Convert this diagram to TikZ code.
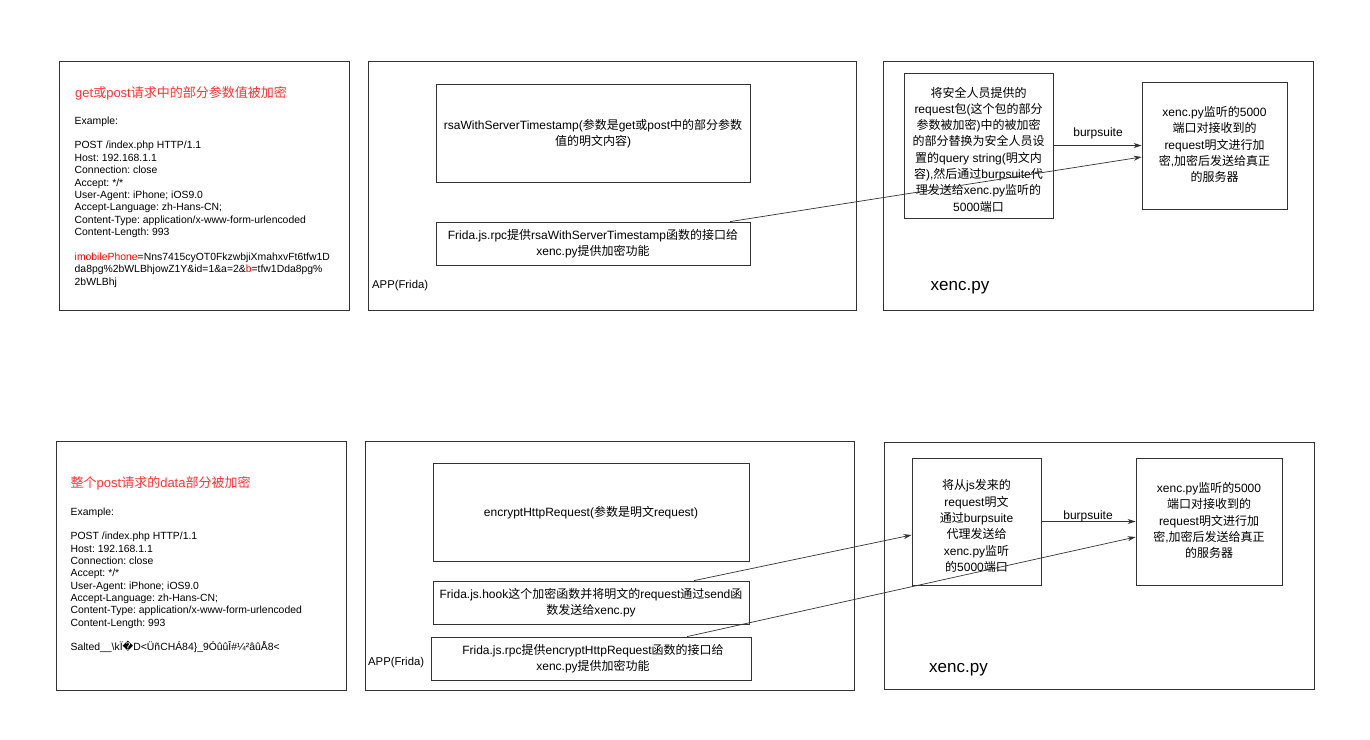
\documentclass[tikz,border=0pt]{standalone}
\usepackage{fontspec}
\setmainfont{Liberation Sans}
\newfontfamily\cjkf{Noto Sans CJK SC}
\newfontfamily\dvf{DejaVu Sans}
\usetikzlibrary{arrows.meta}
\newcommand\zh[1]{{\cjkf #1}}
\definecolor{titred}{HTML}{FF3333}
\definecolor{edge}{HTML}{333333}
\frenchspacing
\tikzset{
  boxsty/.style={draw=edge, line width=0.8pt, inner sep=0pt, fill=none},
  txt/.style={align=center, inner sep=0pt, font=\fontsize{12}{16.3}\selectfont},
  body/.style={anchor=base west, inner sep=0pt, font=\fontsize{10.4}{12.4}\selectfont},
  tit/.style={anchor=base west, inner sep=0pt, text=titred, font=\fontsize{13}{15}\selectfont},
  lab/.style={anchor=west, inner sep=0pt},
  conn/.style={draw=edge, line width=0.7pt, -{Stealth[length=8pt,width=5pt]}},
}
\begin{document}
\begin{tikzpicture}[x=1pt,y=-1pt]
\useasboundingbox (0,0) rectangle (1370,739);
\fill[white] (0,0) rectangle (1370,739);

% ---------- top row ----------
\node[boxsty, minimum width=290pt, minimum height=249pt] (TL) at (204,185.5) {};
\node[tit] (tlt) at (75,97.5) {get\zh{或}post\zh{请求中的部分参数值被加密}};
\foreach \t [count=\i] in {
  Example:,{},
  POST /index.php HTTP/1.1,
  Host: 192.168.1.1,
  Connection: close,
  Accept: */*,
  User-Agent: iPhone; iOS9.0,
  Accept-Language: zh-Hans-CN;,
  Content-Type: application/x-www-form-urlencoded,
  Content-Length: 993,{},
  {\textcolor{red}{imobilePhone}=Nns7415cyOT0FkzwbjiXmahxvFt6tfw1D},
  {da8pg\%2bWLBhjowZ1Y\&id=1\&a=2\&\textcolor{red}{b}=tfw1Dda8pg\%},
  2bWLBhj}
  \node[body, name=tlb\i] at (74.5,{124+12.4*(\i-1)}) {\t};

\node[boxsty, minimum width=488pt, minimum height=249pt] (TM) at (612,185.5) {};
\node[boxsty, minimum width=314pt, minimum height=98pt] (TM1) at (593,133) {};
\node[txt] (TM1t) at (593,134) {rsaWithServerTimestamp(\zh{参数是}get\zh{或}post\zh{中的部分参数}\\\zh{值的明文内容})};
\node[boxsty, minimum width=314pt, minimum height=43pt] (TM2) at (593,243.5) {};
\node[txt] (TM2t) at (593,243.5) {Frida.js.rpc\zh{提供}rsaWithServerTimestamp\zh{函数的接口给}\\xenc.py\zh{提供加密功能}};
\node[lab, font=\fontsize{11.3}{13}\selectfont] (app1) at (372,285.5) {APP(Frida)};

\node[boxsty, minimum width=430pt, minimum height=249pt] (TR) at (1098,185.5) {};
\node[boxsty, minimum width=149pt, minimum height=145pt] (A) at (978.5,145.5) {};
\node[txt] (At) at (978.5,149.5) {\zh{将安全人员提供的}\\request\zh{包}(\zh{这个包的部分}\\\zh{参数被加密})\zh{中的被加密}\\\zh{的部分替换为安全人员设}\\\zh{置的}query string(\zh{明文内}\\\zh{容}),\zh{然后通过}burpsuite\zh{代}\\\zh{理发送给}xenc.py\zh{监听的}\\5000\zh{端口}};
\node[boxsty, minimum width=145pt, minimum height=127pt] (B) at (1214.5,145.5) {};
\node[txt] (Bt) at (1214.5,144.5) {xenc.py\zh{监听的}5000\\\zh{端口对接收到的}\\request\zh{明文进行加}\\\zh{密},\zh{加密后发送给真正}\\\zh{的服务器}};
\node[lab, font=\fontsize{17}{20}\selectfont] (xenc1) at (930.5,288) {xenc.py};

\draw[conn] (A.east) -- (B.west);
\node[inner sep=0pt, font=\fontsize{12}{14}\selectfont] (bs1) at (1098,133.5) {burpsuite};
\draw[conn] ([xshift=137pt]TM2.north) -- ([yshift=-11.5pt]B.west);

% ---------- bottom row ----------
\node[boxsty, minimum width=290pt, minimum height=249pt] (BL) at (201,565.5) {};
\node[tit] (blt) at (70.5,487.5) {\zh{整个}post\zh{请求的}data\zh{部分被加密}};
\foreach \t [count=\i] in {
  Example:,{},
  POST /index.php HTTP/1.1,
  Host: 192.168.1.1,
  Connection: close,
  Accept: */*,
  User-Agent: iPhone; iOS9.0,
  Accept-Language: zh-Hans-CN;,
  Content-Type: application/x-www-form-urlencoded,
  Content-Length: 993,{},
  {Salted\_\_\textbackslash kÏ{\dvf\char"FFFD}D<ÜñCHÁ84\}\_9ÓûûÎ\#¼²âûÅ8<}}
  \node[body, name=blb\i] at (70.5,{515+12.35*(\i-1)}) {\t};

\node[boxsty, minimum width=489pt, minimum height=249pt] (BM) at (609.5,565.5) {};
\node[boxsty, minimum width=316pt, minimum height=98pt] (BM1) at (591,512) {};
\node[txt] (BM1t) at (591,513) {encryptHttpRequest(\zh{参数是明文}request)};
\node[boxsty, minimum width=316pt, minimum height=43pt] (BM2) at (591,602.5) {};
\node[txt] (BM2t) at (591,602.5) {Frida.js.hook\zh{这个加密函数并将明文的}request\zh{通过}send\zh{函}\\\zh{数发送给}xenc.py};
\node[boxsty, minimum width=320pt, minimum height=43pt] (BM3) at (591,658.5) {};
\node[txt] (BM3t) at (593,658.5) {Frida.js.rpc\zh{提供}encryptHttpRequest\zh{函数的接口给}\\xenc.py\zh{提供加密功能}};
\node[lab, font=\fontsize{11.3}{13}\selectfont] (app2) at (368,663) {APP(Frida)};

\node[boxsty, minimum width=430pt, minimum height=247pt] (BR) at (1099,565.5) {};
\node[boxsty, minimum width=129pt, minimum height=127pt] (C) at (976.5,521.5) {};
\node[txt] (Ct) at (976.5,526) {\zh{将从}js\zh{发来的}\\request\zh{明文}\\\zh{通过}burpsuite\\\zh{代理发送给}\\xenc.py\zh{监听}\\\zh{的}5000\zh{端口}};
\node[boxsty, minimum width=146pt, minimum height=127pt] (D) at (1209,521.5) {};
\node[txt] (Dt) at (1209,520.5) {xenc.py\zh{监听的}5000\\\zh{端口对接收到的}\\request\zh{明文进行加}\\\zh{密},\zh{加密后发送给真正}\\\zh{的服务器}};
\node[lab, font=\fontsize{17}{20}\selectfont] (xenc2) at (929,670) {xenc.py};

\draw[conn] (C.east) -- (D.west);
\node[inner sep=0pt, font=\fontsize{12}{14}\selectfont] (bs2) at (1088,516) {burpsuite};
\draw[conn] ([xshift=103pt]BM2.north) -- ([yshift=-13.5pt]C.west);
\draw[conn] ([xshift=96pt]BM3.north) -- ([yshift=-15.5pt]D.west);
\end{tikzpicture}
\end{document}
